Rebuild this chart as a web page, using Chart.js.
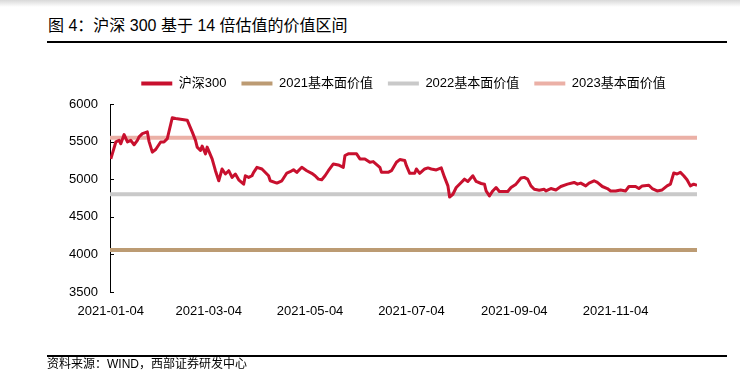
<!DOCTYPE html>
<html>
<head>
<meta charset="utf-8">
<script src="https://cdn.jsdelivr.net/npm/chart.js@4/dist/chart.umd.min.js"></script>
<style>
html,body{margin:0;padding:0;background:#fff;}
#wrap{position:relative;width:740px;height:377px;overflow:hidden;font-family:"Liberation Sans","Noto Sans CJK SC",sans-serif;color:#000;}
#shade{position:absolute;left:0;top:0;width:740px;height:7px;background:linear-gradient(#d9d9d9,#ffffff);}
#title{position:absolute;left:48px;top:16px;font-size:16px;line-height:20px;white-space:nowrap;}
#rule1{position:absolute;left:47px;top:41px;width:680px;height:2px;background:#000;}
#rule2{position:absolute;left:47px;top:355px;width:680px;height:2px;background:#000;z-index:5;}
#src{position:absolute;left:47px;top:357px;font-size:12px;line-height:15px;white-space:nowrap;}
#box{position:absolute;left:0;top:0;width:740px;height:377px;}
</style>
</head>
<body>
<div id="wrap">
  <div id="shade"></div>
  <div id="title">图 4：沪深 300 基于 14 倍估值的价值区间</div>
  <div id="rule1"></div>
  <div id="box"><canvas id="c" width="740" height="377"></canvas></div>
  <div id="rule2"></div>
  <div id="src">资料来源：WIND，西部证券研发中心</div>
</div>
<script>
// ---- data ----
// days elapsed since 2021-01-04
const tradeDays = [0,3,5,6,8,10,12,14,16,17,19,22,23,25,27,30,32,34,37,39,46,49,51,52,54,55,57,58,61,63,65,67,69,71,73,75,77,80,81,83,85,86,88,91,95,96,100,103,106,108,110,112,115,118,121,123,125,127,129,131,134,137,140,141,143,148,150,153,156,158,162,163,167,169,172,174,177,178,180,183,184,186,189,191,193,196,199,201,203,204,206,208,211,213,215,218,220,223,225,226,228,230,232,234,239,241,244,247,249,251,253,255,258,261,262,265,268,271,275,279,281,283,286,288,291,293,296,299,301,304,307,310,312,316,318,320,324,326,329,332,335,337,339,341,343,345,347,349,351,353];
const hs300 = [5270,5495,5516,5472,5593,5495,5516,5458,5516,5562,5606,5629,5503,5360,5395,5495,5495,5539,5817,5808,5785,5629,5516,5427,5382,5441,5337,5427,5270,5113,4979,5136,5069,5113,5024,5069,4992,4934,5046,5024,5046,5091,5158,5136,5046,4979,4948,4979,5082,5100,5126,5091,5158,5113,5078,5046,5001,4992,5046,5113,5203,5190,5158,5315,5337,5337,5270,5270,5226,5234,5158,5091,5091,5113,5226,5261,5248,5180,5078,5078,5136,5078,5136,5150,5136,5123,5150,5024,4911,4763,4800,4890,4957,5001,4970,5046,4970,4943,4934,4844,4777,4844,4890,4836,4836,4890,4934,5015,5024,5001,4911,4867,4853,4867,4844,4876,4857,4903,4934,4957,4934,4948,4911,4948,4979,4957,4903,4876,4844,4844,4857,4844,4903,4903,4876,4911,4920,4876,4844,4857,4911,4934,5082,5069,5091,5046,4992,4911,4934,4920];
const seriesName = '沪深300';
const refNames = ['2021基本面价值','2022基本面价值','2023基本面价值'];
const refValues = [4060, 4800, 5550];
const xTickDays = [0,59,120,181,243,304];
const xTickLabels = ['2021-01-04','2021-03-04','2021-05-04','2021-07-04','2021-09-04','2021-11-04'];
const yTickValues = [3500,4000,4500,5000,5500,6000];

// ---- styles ----
const seriesColor = '#C8102E';
const refColors = ['#BC9B73','#C9C9C9','#EBB0A6'];
const xMin = -0.5, xMax = 353;

const datasets = [{
  label: seriesName,
  data: tradeDays.map((d,i)=>({x:d,y:hs300[i]})),
  borderColor: seriesColor, backgroundColor: seriesColor,
  borderWidth: 3, pointRadius: 0, tension: 0, borderJoinStyle:'round'
}].concat(refNames.map((n,i)=>({
  label: n,
  data: [{x:xMin,y:refValues[i]},{x:xMax,y:refValues[i]}],
  borderColor: refColors[i], backgroundColor: refColors[i],
  borderWidth: 4, pointRadius: 0
})));

const innerTicks = {
  id:'innerTicks',
  beforeDatasetsDraw(chart){
    const y = chart.scales.y, a = chart.chartArea, ctx = chart.ctx;
    ctx.save(); ctx.strokeStyle = '#000'; ctx.lineWidth = 1;
    y.ticks.forEach(t=>{
      const py = Math.round(y.getPixelForValue(t.value)) + 0.5;
      ctx.beginPath(); ctx.moveTo(a.left, py); ctx.lineTo(a.left + 4, py); ctx.stroke();
    });
    ctx.restore();
  }
};

const font = {family:'"Liberation Sans","Noto Sans CJK SC",sans-serif', size:13};

new Chart(document.getElementById('c'), {
  type: 'line',
  data: {datasets},
  plugins: [innerTicks],
  options: {
    responsive: false, animation: false,
    layout: {padding: {left: 10, right: 43, top: 62, bottom: 55}},
    plugins: {
      tooltip: {enabled:false},
      legend: {
        position: 'top', fullSize: false,
        labels: {
          color:'#000', font, boxWidth: 31, boxHeight: 4, padding: 15,
          generateLabels(chart){
            return Chart.defaults.plugins.legend.labels.generateLabels(chart)
              .map(l=>Object.assign(l,{lineWidth:0, fillStyle:l.strokeStyle}));
          }
        }
      }
    },
    scales: {
      x: {
        type:'linear', min:xMin, max:xMax,
        grid:{display:false, drawTicks:false}, border:{display:false},
        afterFit(s){ s.height = 30; },
        afterBuildTicks(s){ s.ticks = xTickDays.map(v=>({value:v})); },
        ticks:{ autoSkip:false, maxRotation:0, padding:12, color:'#000', font,
          callback:(v,i)=>xTickLabels[i] }
      },
      xtop: {
        type:'linear', position:'top', display:true,
        grid:{display:false, drawTicks:false}, border:{display:false},
        ticks:{display:false},
        afterFit(s){ s.height = 4; }
      },
      y: {
        min:3500, max:6000,
        grid:{display:false, drawTicks:false},
        border:{display:true, color:'#000', width:1},
        afterFit(s){ s.width = 100; },
        afterBuildTicks(s){ s.ticks = yTickValues.map(v=>({value:v})); },
        ticks:{ padding:12, color:'#000', font, callback:(v)=>String(v) }
      }
    }
  }
});
</script>
</body>
</html>
